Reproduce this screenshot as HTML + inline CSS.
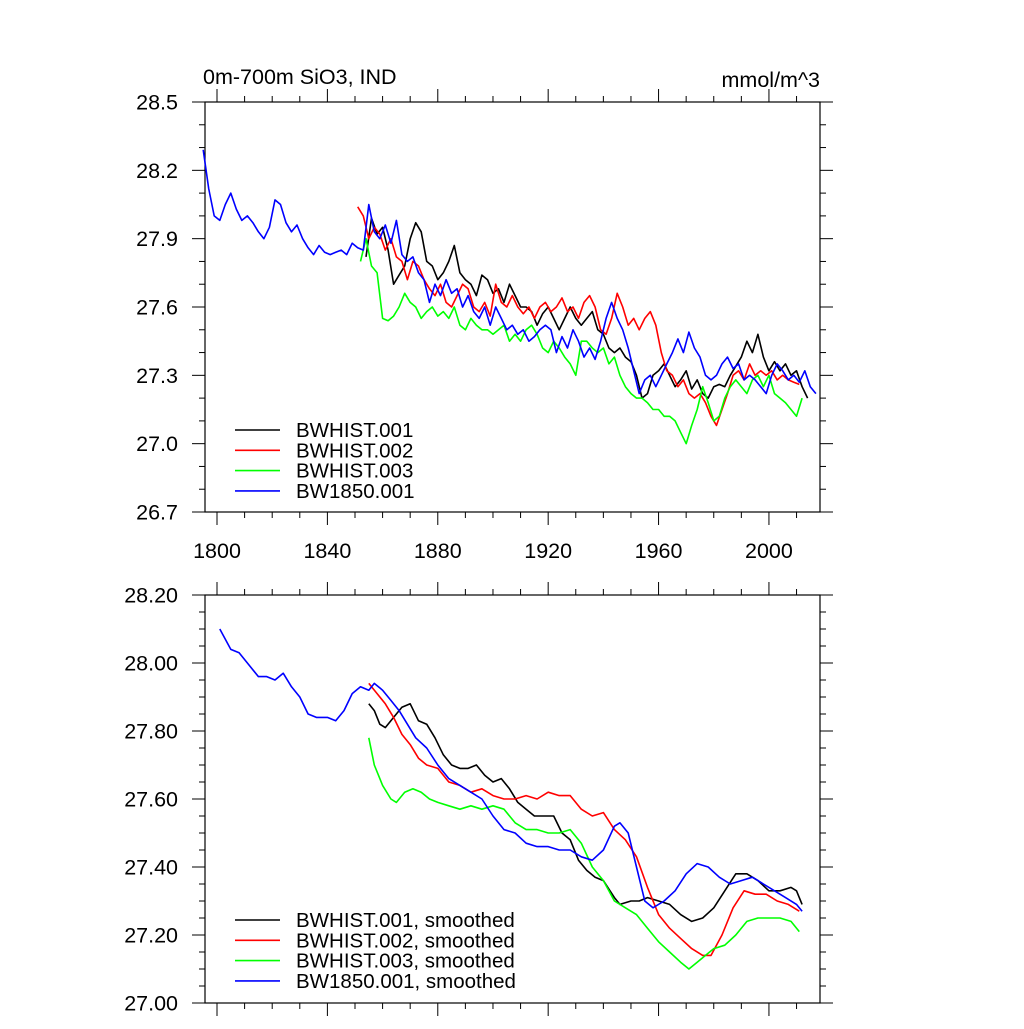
<!DOCTYPE html>
<html><head><meta charset="utf-8"><style>
html,body{margin:0;padding:0;background:#fff;}
svg text{font-family:"Liberation Sans",sans-serif;fill:#000;}
</style></head><body>
<svg id="chart" width="1024" height="1024" xmlns="http://www.w3.org/2000/svg">
<text x="203" y="84" font-size="21.5">0m-700m SiO3, IND</text>
<text x="820" y="87" font-size="21.5" text-anchor="end">mmol/m^3</text>
<g id="top"></g>
<g id="bot"></g>
</svg>
<script>
const blackStart=1854, redStart=1851, greenStart=1852, blueStart=1795, rawStep=2;
const blackRaw=[27.82,27.99,27.92,27.95,27.85,27.7,27.74,27.78,27.9,27.97,27.93,27.8,27.78,27.72,27.75,27.8,27.87,27.75,27.72,27.7,27.65,27.74,27.72,27.66,27.68,27.62,27.7,27.65,27.6,27.6,27.58,27.52,27.57,27.6,27.55,27.5,27.55,27.6,27.55,27.52,27.55,27.58,27.5,27.48,27.42,27.4,27.42,27.38,27.36,27.3,27.2,27.22,27.3,27.32,27.35,27.3,27.25,27.28,27.32,27.24,27.28,27.22,27.2,27.25,27.26,27.25,27.3,27.34,27.38,27.45,27.4,27.48,27.38,27.32,27.36,27.32,27.35,27.3,27.32,27.25,27.2];
const redRaw=[28.04,28.0,27.9,27.95,27.92,27.85,27.9,27.82,27.8,27.72,27.8,27.78,27.72,27.68,27.65,27.7,27.62,27.6,27.65,27.7,27.68,27.6,27.58,27.62,27.56,27.7,27.62,27.6,27.65,27.6,27.57,27.6,27.55,27.6,27.62,27.58,27.6,27.64,27.58,27.6,27.55,27.62,27.65,27.6,27.5,27.48,27.55,27.66,27.6,27.52,27.55,27.5,27.55,27.58,27.52,27.4,27.32,27.3,27.25,27.28,27.22,27.2,27.22,27.18,27.12,27.08,27.15,27.22,27.3,27.32,27.28,27.35,27.3,27.32,27.3,27.32,27.28,27.3,27.28,27.27,27.26];
const greenRaw=[27.8,27.9,27.78,27.75,27.55,27.54,27.56,27.6,27.66,27.62,27.6,27.55,27.58,27.6,27.56,27.58,27.55,27.6,27.52,27.5,27.55,27.52,27.5,27.5,27.48,27.5,27.52,27.45,27.48,27.45,27.5,27.52,27.48,27.42,27.4,27.45,27.42,27.38,27.35,27.3,27.45,27.45,27.42,27.4,27.42,27.35,27.38,27.3,27.25,27.22,27.2,27.2,27.18,27.15,27.15,27.12,27.12,27.1,27.05,27.0,27.08,27.15,27.25,27.18,27.1,27.12,27.2,27.25,27.28,27.25,27.22,27.28,27.3,27.25,27.3,27.22,27.2,27.18,27.15,27.12,27.2];
const blueRaw=[28.29,28.12,28.0,27.98,28.05,28.1,28.03,27.98,28.0,27.97,27.93,27.9,27.95,28.07,28.05,27.97,27.93,27.96,27.9,27.86,27.83,27.87,27.84,27.83,27.84,27.85,27.83,27.88,27.86,27.85,28.05,27.93,27.9,27.96,27.88,27.98,27.83,27.8,27.82,27.75,27.72,27.62,27.7,27.65,27.72,27.66,27.68,27.6,27.65,27.58,27.55,27.6,27.52,27.6,27.55,27.5,27.52,27.48,27.5,27.45,27.47,27.5,27.52,27.5,27.4,27.47,27.42,27.5,27.45,27.38,27.42,27.37,27.45,27.55,27.62,27.55,27.5,27.42,27.32,27.22,27.28,27.3,27.25,27.3,27.35,27.4,27.46,27.4,27.49,27.42,27.38,27.3,27.28,27.3,27.35,27.38,27.33,27.35,27.28,27.3,27.28,27.25,27.22,27.3,27.35,27.32,27.28,27.3,27.27,27.32,27.25,27.22];

const blueSmYears=[1801,1805,1808,1812,1815,1818,1821,1824,1827,1830,1833,1836,1840,1843,1846,1849,1852,1855,1857,1860,1863,1866,1869,1872,1876,1880,1884,1888,1892,1896,1900,1904,1908,1912,1916,1920,1924,1928,1932,1936,1940,1944,1946,1949,1952,1955,1958,1962,1966,1970,1974,1978,1982,1986,1990,1994,1998,2002,2006,2010,2012];
const blueSm=[28.10,28.04,28.03,27.99,27.96,27.96,27.95,27.97,27.93,27.90,27.85,27.84,27.84,27.83,27.86,27.91,27.93,27.92,27.94,27.92,27.89,27.86,27.82,27.78,27.75,27.7,27.66,27.64,27.62,27.6,27.55,27.51,27.5,27.47,27.46,27.46,27.45,27.45,27.43,27.42,27.45,27.52,27.53,27.5,27.4,27.3,27.28,27.3,27.33,27.38,27.41,27.4,27.37,27.35,27.36,27.37,27.35,27.33,27.31,27.29,27.27];
const blackSmYears=[1855,1857,1859,1861,1864,1867,1870,1873,1876,1879,1882,1885,1888,1891,1894,1897,1900,1903,1906,1909,1912,1915,1918,1922,1925,1928,1931,1934,1937,1940,1944,1946,1950,1953,1956,1960,1964,1968,1972,1976,1980,1984,1988,1992,1996,2000,2004,2008,2010,2012];
const blackSm=[27.88,27.86,27.82,27.81,27.84,27.87,27.88,27.83,27.82,27.78,27.73,27.7,27.69,27.69,27.7,27.67,27.65,27.66,27.63,27.59,27.57,27.55,27.55,27.55,27.5,27.48,27.42,27.39,27.37,27.36,27.31,27.29,27.3,27.3,27.31,27.3,27.29,27.26,27.24,27.25,27.28,27.33,27.38,27.38,27.36,27.33,27.33,27.34,27.33,27.29];
const redSmYears=[1855,1858,1861,1864,1867,1870,1873,1876,1880,1884,1888,1892,1896,1900,1904,1908,1912,1916,1920,1924,1928,1932,1936,1940,1944,1948,1952,1956,1960,1964,1968,1972,1976,1979,1983,1987,1991,1995,1999,2003,2007,2011];
const redSm=[27.94,27.91,27.88,27.84,27.79,27.76,27.72,27.7,27.69,27.65,27.64,27.62,27.63,27.61,27.6,27.6,27.61,27.6,27.62,27.61,27.61,27.57,27.55,27.56,27.51,27.48,27.43,27.34,27.26,27.22,27.19,27.16,27.14,27.14,27.2,27.28,27.33,27.32,27.32,27.3,27.29,27.27];
const greenSmYears=[1855,1857,1860,1863,1865,1868,1871,1874,1877,1880,1884,1888,1892,1896,1900,1904,1908,1912,1916,1920,1924,1928,1932,1936,1940,1944,1948,1952,1956,1960,1964,1968,1971,1974,1977,1980,1984,1988,1992,1996,2000,2004,2008,2011];
const greenSm=[27.78,27.7,27.64,27.6,27.59,27.62,27.63,27.62,27.6,27.59,27.58,27.57,27.58,27.57,27.58,27.57,27.53,27.51,27.51,27.5,27.5,27.51,27.47,27.4,27.36,27.3,27.28,27.26,27.22,27.18,27.15,27.12,27.1,27.12,27.14,27.16,27.17,27.2,27.24,27.25,27.25,27.25,27.24,27.21];

const xTicks=[1800,1840,1880,1920,1960,2000];
const topYTicks=["28.5","28.2","27.9","27.6","27.3","27.0","26.7"];
const botYTicks=["28.20","28.00","27.80","27.60","27.40","27.20","27.00"];

const NS="http://www.w3.org/2000/svg";
const X0=205,X1=820,YR0=1795.65,YR1=2018.5;
const xs=yr=>X0+(yr-YR0)/(YR1-YR0)*(X1-X0);
function mk(tag,attrs,parent){const e=document.createElementNS(NS,tag);for(const k in attrs)e.setAttribute(k,attrs[k]);parent.appendChild(e);return e;}

function panel(g,top,bot,vmin,vmax,yTicks,minorStep,showX,name){
  const ys=v=>bot-(v-vmin)/(vmax-vmin)*(bot-top);
  const fr=mk('rect',{x:X0,y:top,width:X1-X0,height:bot-top,fill:'none',stroke:'#000','stroke-width':1.2},g);
  
  
  const nMin=Math.round((vmax-vmin)/minorStep);
  for(let i=0;i<=nMin;i++){
    const v=vmin+i*minorStep, y=ys(v);
    const major=yTicks.some(t=>Math.abs(parseFloat(t)-v)<1e-6);
    const L=major?13:6;
    const t1=mk('line',{x1:X0-L,x2:X0,y1:y,y2:y,stroke:'#000','stroke-width':1},g);
    
    
    const t2=mk('line',{x1:X1,x2:X1+L,y1:y,y2:y,stroke:'#000','stroke-width':1},g);
    
    
  }
  yTicks.forEach(t=>{
    const tx=mk('text',{x:178,y:ys(parseFloat(t))+7.5,'font-size':21.5,'text-anchor':'end'},g);
    tx.textContent=t;
    
    
  });
  for(let yr=1800;yr<=2010;yr+=10){
    const x=xs(yr), major=xTicks.includes(yr), L=major?13:6;
    const a=mk('line',{x1:x,x2:x,y1:bot,y2:bot+L,stroke:'#000','stroke-width':1},g);
    
    
    const b=mk('line',{x1:x,x2:x,y1:top-L,y2:top,stroke:'#000','stroke-width':1},g);
    
    
  }
  if(showX) xTicks.forEach(yr=>{
    const tx=mk('text',{x:xs(yr),y:bot+46,'font-size':21.5,'text-anchor':'middle'},g);
    tx.textContent=String(yr);
    
    
  });
  return ys;
}
function line(g,years,vals,ys,color,name){
  const d=vals.map((v,i)=>(i?'L':'M')+xs(years[i]).toFixed(1)+','+ys(v).toFixed(1)).join('');
  const p=mk('path',{d:d,fill:'none',stroke:color,'stroke-width':1.6,'stroke-linejoin':'round'},g);
  
  
}
const yrs=(s,arr)=>arr.map((_,i)=>s+i*rawStep);
function legend(g,y0,labels,colors){
  labels.forEach((l,i)=>{
    const y=y0+i*20.3;
    const ln=mk('line',{x1:235,x2:280,y1:y,y2:y,stroke:colors[i],'stroke-width':1.6},g);
    
    
    const t=mk('text',{x:296,y:y+7,'font-size':20.5},g);
    t.textContent=l;
    
    
  });
}
const cols=['#000','#f00','#0f0','#00f'];
const gt=document.getElementById('top');
const ysT=panel(gt,102,512,26.7,28.5,topYTicks,0.1,true,'top');
line(gt,yrs(blackStart,blackRaw),blackRaw,ysT,'#000','series-bwhist-001');
line(gt,yrs(redStart,redRaw),redRaw,ysT,'#f00','series-bwhist-002');
line(gt,yrs(greenStart,greenRaw),greenRaw,ysT,'#0f0','series-bwhist-003');
line(gt,yrs(blueStart,blueRaw),blueRaw,ysT,'#00f','series-bw1850-001');
legend(gt,430,['BWHIST.001','BWHIST.002','BWHIST.003','BW1850.001'],cols);
const gb=document.getElementById('bot');
const ysB=panel(gb,595,1003,27.0,28.2,botYTicks,0.05,false,'bottom');
line(gb,blackSmYears,blackSm,ysB,'#000','smoothed-bwhist-001');
line(gb,redSmYears,redSm,ysB,'#f00','smoothed-bwhist-002');
line(gb,greenSmYears,greenSm,ysB,'#0f0','smoothed-bwhist-003');
line(gb,blueSmYears,blueSm,ysB,'#00f','smoothed-bw1850-001');
legend(gb,920,['BWHIST.001, smoothed','BWHIST.002, smoothed','BWHIST.003, smoothed','BW1850.001, smoothed'],cols);
</script>
</body></html>
